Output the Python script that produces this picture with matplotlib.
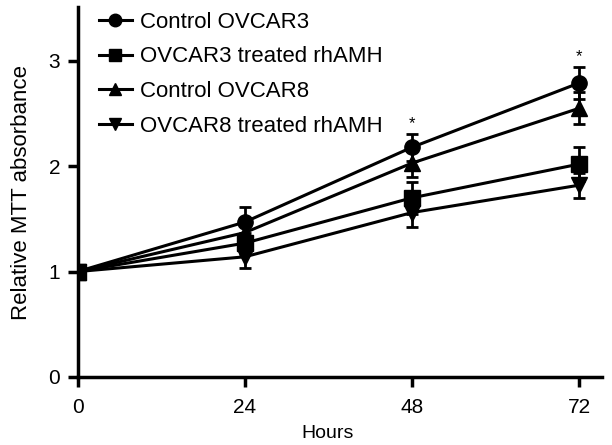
import numpy as np
import matplotlib
matplotlib.use("Agg")
import matplotlib.pyplot as plt
from matplotlib.lines import Line2D

plt.rcParams['font.family'] = ['Liberation Sans', 'DejaVu Sans']

hours = [0, 24, 48, 72]
ctrl_ov3 = [1.0, 1.47, 2.18, 2.79]
ctrl_ov3_err = [0.0, 0.14, 0.13, 0.15]
amh_ov3 = [1.0, 1.27, 1.70, 2.02]
amh_ov3_err = [0.0, 0.10, 0.15, 0.16]
ctrl_ov8 = [1.0, 1.37, 2.03, 2.55]
ctrl_ov8_err = [0.0, 0.10, 0.13, 0.15]
amh_ov8 = [1.0, 1.14, 1.56, 1.82]
amh_ov8_err = [0.0, 0.11, 0.14, 0.12]
star_x = [48, 72]
star_y = [2.33, 2.97]

fig = plt.figure(figsize=(6.12, 4.45), dpi=100)
ax = fig.add_axes([0.127, 0.153, 0.857, 0.831])

series = [
    ("Control OVCAR3", ctrl_ov3, ctrl_ov3_err, 'o'),
    ("OVCAR3 treated rhAMH", amh_ov3, amh_ov3_err, 's'),
    ("Control OVCAR8", ctrl_ov8, ctrl_ov8_err, '^'),
    ("OVCAR8 treated rhAMH", amh_ov8, amh_ov8_err, 'v'),
]
handles = []
for label, y, e, m in series:
    ax.errorbar(hours, y, yerr=e, color='black', marker=m, markersize=11,
                linewidth=2.2, elinewidth=2, capsize=4.5, capthick=2)
    handles.append(Line2D([], [], color='black', marker=m, markersize=9,
                          linewidth=2.2, label=label))

for x, y in zip(star_x, star_y):
    ax.text(x, y, '*', ha='center', va='bottom', fontsize=12)

ax.set_xlim(0, 75.3)
ax.set_ylim(0, 3.51)
ax.set_xticks(hours)
ax.set_yticks([0, 1, 2, 3])
ax.spines['top'].set_visible(False)
ax.spines['right'].set_visible(False)
for s in ['left', 'bottom']:
    ax.spines[s].set_linewidth(2.5)
    ax.spines[s].set_clip_on(False)
ax.tick_params(width=2.5, length=7.5, labelsize=15)
ax.tick_params(axis='x', pad=8)
ax.tick_params(axis='y', pad=5)
ax.set_xlabel('Hours', fontsize=14, labelpad=10)
ax.xaxis.set_label_coords(0.477, -0.13)
ax.set_ylabel('Relative MTT absorbance', fontsize=16, labelpad=12)

ax.legend(handles=handles, loc='upper left', bbox_to_anchor=(0.01, 1.03),
          frameon=False, fontsize=16, handlelength=1.5, handletextpad=0.35,
          labelspacing=0.62, borderaxespad=0.3)

fig.savefig('out.png', dpi=100)
